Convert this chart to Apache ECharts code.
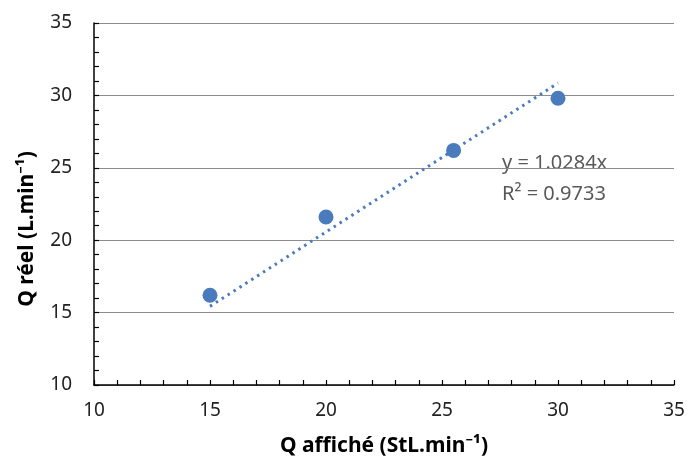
<!DOCTYPE html>
<html><head><meta charset="utf-8">
<script src="https://cdn.jsdelivr.net/npm/echarts@6/dist/echarts.min.js"></script>
<style>html,body{margin:0;padding:0;background:#fff}#c{width:688px;height:461px}</style>
</head><body><div id="c"></div>
<script>
const xValues = [15, 20, 25.5, 30];
const yValues = [16.2, 21.6, 26.2, 29.8];
const trendX = [15, 30];
const trendY = [15.43, 30.85];
const xTicks = [10, 15, 20, 25, 30, 35];
const yTicks = [10, 15, 20, 25, 30, 35];
const xTitle = 'Q affiché (StL.min⁻¹)';
const yTitle = 'Q réel (L.min⁻¹)';
const eqText = 'y = 1.0284x';
const r2Text = 'R² = 0.9733';

const chart = echarts.init(document.getElementById('c'), null, {renderer: 'canvas'});
const font = 'Noto Sans';
const axisCommon = {
  type: 'value', min: 10, max: 35, interval: 5,
  axisLine: {show: true, onZero: false, lineStyle: {color: '#000', width: 1.5}},
  axisTick: {show: true, inside: true, length: 5, lineStyle: {color: '#000', width: 1.2}},
  minorTick: {show: true, splitNumber: 5, length: 5, lineStyle: {color: '#000', width: 1.2}},
  axisLabel: {fontFamily: font, fontSize: 19, color: '#222'},
  nameLocation: 'middle',
  nameTextStyle: {fontFamily: font, fontSize: 21, fontWeight: 'bold', color: '#000'}
};
chart.setOption({
  animation: false,
  grid: {left: 94, right: 14, top: 23, bottom: 76, containLabel: false, outerBoundsMode: 'none'},
  xAxis: Object.assign({}, axisCommon, {
    name: xTitle, nameGap: 51,
    splitLine: {show: false},
    axisLabel: Object.assign({}, axisCommon.axisLabel, {margin: 16})
  }),
  yAxis: Object.assign({}, axisCommon, {
    name: '',
    splitLine: {show: true, lineStyle: {color: '#8c8c8c', width: 1}},
    axisLabel: Object.assign({}, axisCommon.axisLabel, {margin: 22})
  }),
  series: [
    {
      type: 'line', data: trendX.map((x, i) => [x, trendY[i]]),
      symbol: 'none', lineStyle: {color: '#4a7bbd', width: 3, type: [2.5, 4.5]},
      z: 2
    },
    {
      type: 'scatter', data: xValues.map((x, i) => [x, yValues[i]]),
      symbolSize: 15, itemStyle: {color: '#4a7bbd', opacity: 1}, z: 3
    }
  ],
  graphic: [
    {
      type: 'text', left: 502, top: 148,
      style: {text: eqText + '\n' + r2Text, font: '20px "Noto Sans"', fill: '#595959', lineHeight: 31}
    },
    {
      type: 'text', x: 27, y: 229, rotation: Math.PI / 2,
      style: {text: yTitle, font: 'bold 21px "Noto Sans"', fill: '#000', align: 'center', verticalAlign: 'middle'}
    }
  ]
});
</script></body></html>
